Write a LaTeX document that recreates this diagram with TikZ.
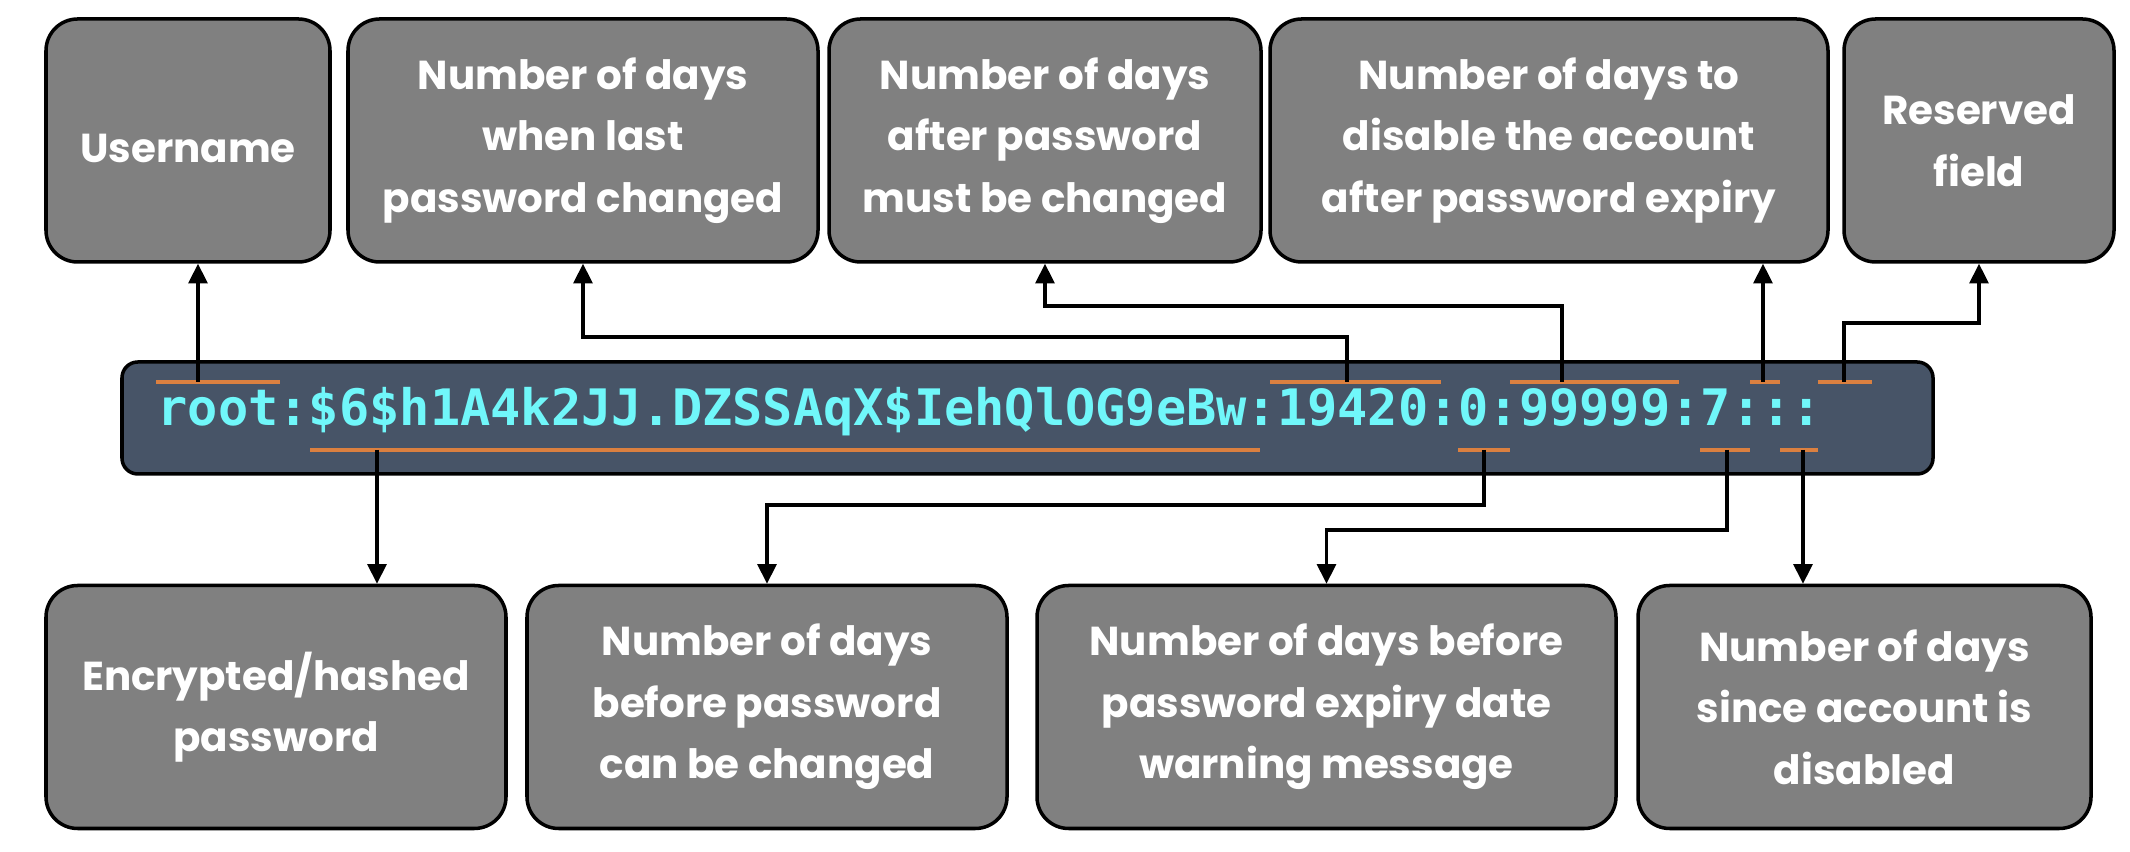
\documentclass[tikz,border=0pt]{standalone}
\usepackage{fontspec}
\setmainfont{Poppins}
\setmonofont{DejaVu Sans Mono}
\usepackage{tikz}
\usepackage{xcolor}
\usetikzlibrary{arrows.meta}
\definecolor{boxgray}{HTML}{808080}
\definecolor{slate}{HTML}{475467}
\definecolor{cyantext}{HTML}{70F7FA}
\definecolor{markorange}{HTML}{DB8040}

\begin{document}
\begin{tikzpicture}%
  [link/.style={line width=0.9pt,-{Triangle[length=5.6pt,width=5.4pt]}}]
  \tikzstyle{info node}=[rectangle,rounded corners=9pt,draw=black,line width=1pt,
    fill=boxgray,text=white,align=center,minimum height=2.43cm,
    font=\fontsize{11.5}{17.5}\selectfont\bfseries,
    execute at begin node=\rule{0pt}{12.5pt}]
  \tikzstyle{mark line}=[draw=markorange,line width=1pt]
  \useasboundingbox (0,0) rectangle (21.3,8.52);
  % top row
  \node(user)[info node,minimum width=2.84cm] at (1.88,7.115){Username};
  \node(last)[info node,minimum width=4.70cm] at (5.83,7.115)
    {Number of days\\when last\\password changed};
  \node(max)[info node,minimum width=4.32cm] at (10.45,7.115)
    {Number of days\\after password\\must be changed};
  \node(inact)[info node,minimum width=5.58cm] at (15.49,7.115)
    {Number of days to\\disable the account\\after password expiry};
  \node(resv)[info node,minimum width=2.70cm] at (19.79,7.115){Reserved\\field};
  % bottom row
  \node(hash)[info node,minimum width=4.60cm] at (2.76,1.45){Encrypted/hashed\\password};
  \node(min)[info node,minimum width=4.80cm] at (7.67,1.45)
    {Number of days\\before password\\can be changed};
  \node(warn)[info node,minimum width=5.79cm] at (13.265,1.45)
    {Number of days before\\password expiry date\\warning message};
  \node(expire)[info node,minimum width=4.53cm] at (18.645,1.45)
    {Number of days\\since account is\\disabled};
  % shadow entry
  \node(line)[rectangle,rounded corners=4.5pt,draw=black,line width=1pt,fill=slate,
    minimum width=18.11cm,minimum height=1.12cm] at (10.275,4.34){};
  \node(entry)[anchor=base west,inner sep=0,text=cyantext,
    font=\fontsize{14.3}{16}\selectfont\ttfamily\bfseries] at (1.57,4.26)
    {root:\$6\$h1A4k2JJ.DZSSAqX\$IehQlOG9eBw:19420:0:99999:7:::};
  % field marks
  \draw[mark line] (1.56,4.70) -- (2.80,4.70);
  \draw[mark line] (12.70,4.70) -- (14.41,4.70);
  \draw[mark line] (15.10,4.70) -- (16.79,4.70);
  \draw[mark line] (17.50,4.70) -- (17.80,4.70);
  \draw[mark line] (18.18,4.70) -- (18.72,4.70);
  \draw[mark line] (3.10,4.02) -- (12.60,4.02);
  \draw[mark line] (14.58,4.02) -- (15.10,4.02);
  \draw[mark line] (17.00,4.02) -- (17.50,4.02);
  \draw[mark line] (17.80,4.02) -- (18.18,4.02);
  \coordinate(t user) at (1.98,4.70);
  \coordinate(t last) at (13.47,4.70);
  \coordinate(t max) at (15.62,4.70);
  \coordinate(t inact) at (17.63,4.70);
  \coordinate(t resv) at (18.44,4.70);
  \coordinate(t hash) at (3.77,4.02);
  \coordinate(t min) at (14.84,4.02);
  \coordinate(t warn) at (17.27,4.02);
  \coordinate(t expire) at (18.03,4.02);
  % links
  \draw[link] (t user) -- (t user |- user.south);
  \draw[link] (t last) -- (t last |- 0,5.15) -| (last.south);
  \draw[link] (t max) -- (t max |- 0,5.46) -| (max.south);
  \draw[link] (t inact) -- (t inact |- inact.south);
  \draw[link] (t resv) -- (t resv |- 0,5.29) -| (resv.south);
  \draw[link] (t hash) -- (t hash |- hash.north);
  \draw[link] (t min) -- (t min |- 0,3.47) -| (min.north);
  \draw[link] (t warn) -- (t warn |- 0,3.22) -| (warn.north);
  \draw[link] (t expire) -- (t expire |- expire.north);
\end{tikzpicture}
\end{document}
